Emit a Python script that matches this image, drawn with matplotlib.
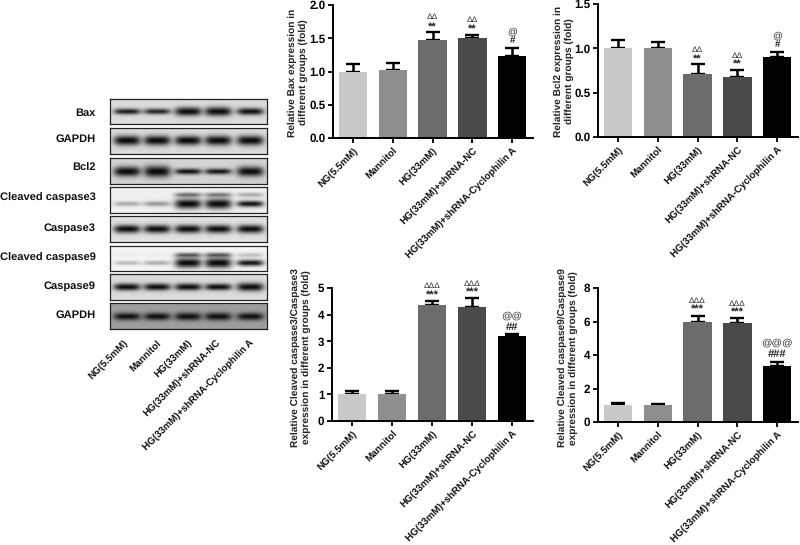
import numpy as np
import matplotlib
matplotlib.use("Agg")
import matplotlib.pyplot as plt
from matplotlib.transforms import ScaledTranslation

plt.rcParams['font.family'] = ['Liberation Sans', 'DejaVu Sans']
plt.rcParams['text.hinting'] = 'no_hinting'
W, H = 800, 545

groups = ["NG(5.5mM)", "Mannitol", "HG(33mM)", "HG(33mM)+shRNA-NC", "HG(33mM)+shRNA-Cyclophilin A"]
bar_colors = ["#c9c9c9", "#8e8e8e", "#6c6c6c", "#4a4a4a", "#000000"]

bax_vals = [1.0, 1.03, 1.48, 1.50, 1.24]
bax_tops = [1.11, 1.13, 1.59, 1.55, 1.36]
bcl2_vals = [1.0, 1.0, 0.71, 0.68, 0.90]
bcl2_tops = [1.09, 1.07, 0.82, 0.76, 0.96]
cc3_vals = [1.0, 1.03, 4.35, 4.30, 3.18]
cc3_tops = [1.13, 1.13, 4.50, 4.62, 3.28]
cc9_vals = [1.03, 1.0, 5.98, 5.90, 3.35]
cc9_tops = [1.13, 1.10, 6.33, 6.22, 3.60]

blot_names = ["Bax", "GAPDH", "Bcl2", "Cleaved caspase3", "Caspase3", "Cleaved caspase9", "Caspase9", "GAPDH"]
blot_label_y = [113, 139, 168, 198, 228, 258, 286, 315]
blot_tops = [99, 128, 158, 187, 216, 246, 274, 303]
blot_bottoms = [124, 154, 184, 213, 242, 271, 300, 329]
blot_bg = [0.86, 0.86, 0.83, 0.94, 0.88, 0.96, 0.86, 0.62]
blot_dark = [[.9, .85, .98, .98, .95], [.99] * 5, [.99, .99, .95, .93, .98], [.3, .38, .99, .99, .95],
             [.98] * 5, [.25, .3, .99, .99, .95], [.98] * 5, [.95] * 5]
blot_thick = [[3.0, 3.0, 4.4, 4.6, 3.6], [5, 5, 4.8, 5, 5], [5, 5.8, 3.0, 3.0, 5], [2.4, 2.6, 5, 5.2, 3.2],
              [4.2] * 5, [2.2, 2.4, 5, 5.2, 3.2], [3.6, 3.6, 3.6, 3.4, 4.2], [3.8, 3.8, 4, 4, 3.8]]
blot_pos = [.5, .48, .52, .65, .5, .68, .5, .52]
upper_dark = {3: [0, 0, .55, .5, .3], 5: [.03, .03, .65, .65, .22]}
upper_pos = {3: .3, 5: .36}
lane_px = [127, 157, 188, 218, 250]
lane_label_end = [129, 162, 193, 222, 255]


def fig_axes(l, t, r, b, **kw):
    return fig.add_axes([l / W, 1 - b / H, (r - l) / W, (b - t) / H], **kw)


fig = plt.figure(figsize=(W / 100, H / 100), dpi=100, facecolor="white")


def draw_blot(i):
    t, b = blot_tops[i], blot_bottoms[i]
    l, r = 110, 267
    ax = fig_axes(l, t, r, b)
    X, Y = np.meshgrid(np.arange(l, r, 0.5), np.linspace(0, 1, 60))
    img = np.full(X.shape, blot_bg[i], float)
    hpx = b - t

    def add(pos, darks, thicks):
        nonlocal img
        for c, d, th in zip(lane_px, darks, thicks):
            g = d * np.exp(-((X - c) / 13.5) ** 4 - ((Y - pos) * hpx / th) ** 2)
            img = img * (1 - g) + 0.03 * g

    add(blot_pos[i], blot_dark[i], blot_thick[i])
    if i in upper_dark:
        add(upper_pos[i], upper_dark[i], [2.4] * 5)
    ax.imshow(img, cmap="gray", vmin=0, vmax=1, aspect="auto", interpolation="bilinear")
    ax.set_xticks([])
    ax.set_yticks([])
    for s in ax.spines.values():
        s.set_linewidth(0.9)
        s.set_color("#222222")
    fig.text(96 / W, 1 - blot_label_y[i] / H, blot_names[i],
             ha="right", va="center", fontsize=8, fontweight="bold", color="#111111")


for i in range(len(blot_names)):
    draw_blot(i)

for c, g in zip(lane_label_end, groups):
    fig.text((c - 6) / W, 1 - 338 / H, g, rotation=45, rotation_mode="anchor", ha="right", va="top",
             fontsize=7.0, fontweight="bold", color="#111111")


def bar_panel(box, vals, tops, ymax, yticks, ylabel, top_marks, lab_x, lab_dy):
    l, t, r, b = box
    ax = fig_axes(l, t, r, b)
    x = np.arange(len(vals))
    errs = np.array(tops) - np.array(vals)
    ax.bar(x, vals, width=0.71, color=bar_colors, zorder=2)
    ax.errorbar(x, vals, yerr=[np.zeros(len(x)), errs], fmt="none", ecolor="black",
                elinewidth=1.8, capsize=5, capthick=1.7, zorder=1)
    ax.set_xlim(-0.5, 4.52)
    ax.set_ylim(0, ymax)
    ax.set_yticks(yticks)
    ax.set_yticklabels([f"{v:g}" if ymax > 2 else f"{v:.1f}" for v in yticks], fontsize=8.4, fontweight="bold")
    ax.set_xticks(x)
    ax.set_xticklabels(groups, rotation=45, ha="right", rotation_mode="anchor", fontsize=7.0, fontweight="bold",
                       color="#111111")
    shift = ScaledTranslation(-5 / 100, 1 / 100, fig.dpi_scale_trans)
    for lab in ax.get_xticklabels():
        lab.set_transform(lab.get_transform() + shift)
    ax.tick_params(axis="both", width=1.3, length=3.5, pad=2)
    ax.spines["top"].set_visible(False)
    ax.spines["right"].set_visible(False)
    ax.spines["left"].set_linewidth(1.4)
    ax.spines["bottom"].set_linewidth(1.4)
    ax.patch.set_alpha(0)
    fig.text(lab_x / W, 1 - ((t + b) / 2 + lab_dy) / H, ylabel, rotation=90, ha="center", va="center", fontsize=7.3,
             fontweight="bold", color="#222222", linespacing=1.25, multialignment="center")
    for xi, lower, upper in top_marks:
        ax.annotate(lower[0], (xi, tops[xi]), xytext=(0, -lower[1] * 0.72), textcoords="offset points",
                    ha="center", va="center", fontsize=lower[2], fontweight="bold", color="#222222")
        ax.annotate(upper[0], (xi, tops[xi]), xytext=(0, -upper[1] * 0.72), textcoords="offset points",
                    ha="center", va="center", fontsize=upper[2], color="#333333")


bar_panel((333, 5, 533, 138), bax_vals, bax_tops, 2.0, [0, 0.5, 1.0, 1.5, 2.0],
          "Relative Bax expression in\ndifferent groups (fold)",
          [(2, ("**", -5, 8), ("ΔΔ", -15, 6)), (3, ("**", -5, 8), ("ΔΔ", -15, 6)),
           (4, ("#", -7, 7), ("@", -16, 7))], 298, 1)
bar_panel((598, 4, 798, 137), bcl2_vals, bcl2_tops, 1.5, [0, 0.5, 1.0, 1.5],
          "Relative Bcl2 expression in\ndifferent groups (fold)",
          [(2, ("**", -5, 8), ("ΔΔ", -14, 6)), (3, ("**", -5, 8), ("ΔΔ", -14, 6)),
           (4, ("#", -7, 7), ("@", -16, 7))], 563.5, 1)
bar_panel((332, 288, 533, 421), cc3_vals, cc3_tops, 5, [0, 1, 2, 3, 4, 5],
          "Relative Cleaved caspase3/Caspase3\nexpression in different groups (fold)",
          [(2, ("***", -6, 8), ("ΔΔΔ", -15, 6)), (3, ("***", -5, 8), ("ΔΔΔ", -14, 6)),
           (4, ("##", -7, 8), ("@@", -18, 7.5))], 301, 3)
bar_panel((598, 288, 798, 422), cc9_vals, cc9_tops, 8, [0, 2, 4, 6, 8],
          "Relative Cleaved caspase9/Caspase9\nexpression in different groups (fold)",
          [(2, ("***", -6, 8), ("ΔΔΔ", -15, 6)), (3, ("***", -5, 8), ("ΔΔΔ", -14, 6)),
           (4, ("###", -8, 8), ("@@@", -19, 7.5))], 568, 3)

fig.savefig("out.png", dpi=100)
